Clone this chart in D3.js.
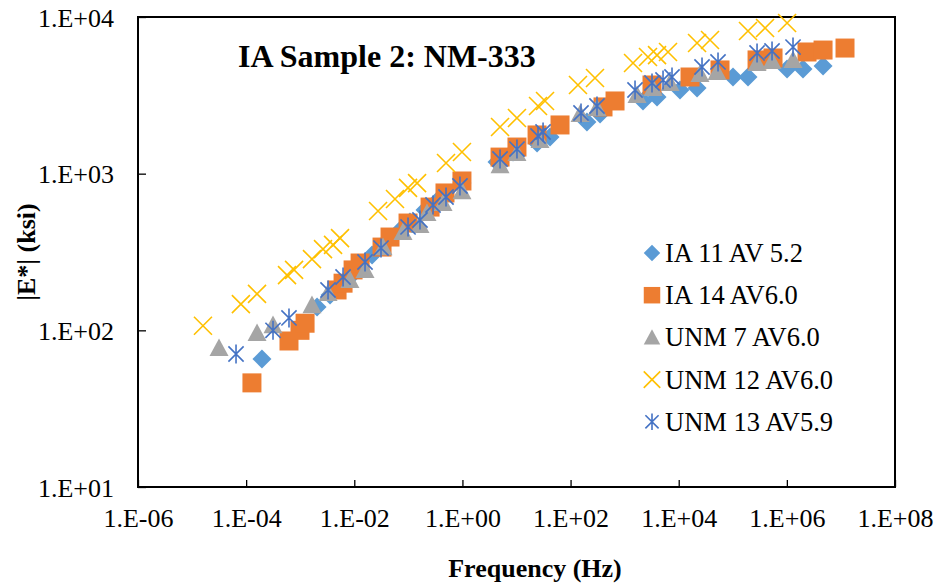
<!DOCTYPE html>
<html>
<head>
<meta charset="utf-8">
<script src="https://cdn.jsdelivr.net/npm/d3@7"></script>
<style>
  html, body { margin: 0; padding: 0; background: #fff; }
  svg { display: block; font-family: "Liberation Serif", "Times New Roman", serif; }
</style>
</head>
<body>
<svg width="935" height="587"></svg>
<script>
// reduced frequency (Hz) and |E*| (ksi) for each specimen
var ia11Freq = [1.96e-4, 2.05e-3, 3.56e-3, 6.7e-3, 0.0103, 0.0213, 0.037, 0.0702, 0.107, 0.203, 0.385, 0.98,
  4.36, 8.63, 24.0, 41.7, 201, 351, 2188, 3972, 10570, 21830, 1.01e5, 1.91e5, 1.01e6, 1.99e6, 4.67e6]
var ia11Mod = [65.6, 141, 168, 204, 236, 303, 361, 436, 491, 586, 700, 871,
  1186, 1374, 1570, 1714, 2138, 2404, 2911, 3085, 3420, 3524, 4140, 4140, 4660, 4660, 4870]

var ia14Freq = [1.28e-4, 6.2e-4, 9.9e-4, 1.23e-3, 4.8e-3, 6.2e-3, 9.5e-3, 0.0128, 0.0326, 0.0458, 0.0986, 0.252,
  0.476, 0.98, 4.96, 10.2, 24.0, 63.8, 398, 664, 3206, 16180, 58070, 2.81e5, 5.55e5, 2.36e6, 4.67e6, 1.19e7]
var ia14Mod = [46.2, 85.5, 100, 111, 181, 200, 243, 269, 340, 394, 484, 612,
  753, 898, 1276, 1479, 1766, 2046, 2667, 2911, 3681, 4140, 4592, 5320, 5475, 5980, 6153, 6336]

var unm7Freq = [3.15e-5, 1.59e-4, 3.14e-4, 1.65e-3, 3.27e-3, 8.3e-3, 0.0158, 0.034, 0.0796, 0.164, 0.221, 0.438,
  0.98, 4.96, 10.2, 27.2, 150, 308, 1694, 3350, 6902, 24770, 51170, 2.81e5, 5.32e5, 1.30e6]
var unm7Mod = [77.1, 96.1, 108, 145, 173, 210, 243, 340, 424, 470, 561, 650,
  774, 1135, 1355, 1641, 2404, 2624, 3177, 3524, 3793, 4325, 4456, 5083, 5236, 5320]

var unm12Freq = [1.59e-5, 8.0e-5, 1.59e-4, 5.7e-4, 7.7e-4, 1.65e-3, 2.64e-3, 4.05e-3, 5.45e-3, 0.0275, 0.0566, 0.0986,
  0.145, 0.497, 0.98, 4.96, 10.2, 25.0, 33.7, 137, 283, 1429, 2704, 3972, 6339, 21830, 37930, 1.91e5, 3.95e5, 1.01e6]
var unm12Mod = [107, 147, 171, 225, 243, 285, 330, 351, 388, 578, 689, 811,
  871, 1169, 1374, 1986, 2265, 2704, 2911, 3681, 4083, 5083, 5559, 5715, 5980, 6823, 7129, 8147, 8511, 9162]

var unm13Freq = [6.5e-5, 3.14e-4, 6.2e-4, 3.27e-3, 6.2e-3, 0.0158, 0.0312, 0.0986, 0.164, 0.286, 0.497, 0.90,
  4.96, 10.2, 25.0, 31.0, 156, 308, 1556, 3206, 5129, 7516, 26980, 53330, 2.81e5, 5.32e5, 1.30e6]
var unm13Mod = [70.6, 100, 120, 181, 219, 273, 335, 457, 506, 631, 710, 834,
  1241, 1436, 1739, 1845, 2438, 2704, 3420, 3793, 3963, 4140, 4797, 5165, 5890, 6067, 6427]

var seriesNames = ['IA 11 AV 5.2', 'IA 14 AV6.0', 'UNM 7 AV6.0', 'UNM 12 AV6.0', 'UNM 13 AV5.9']
var xTicks = [1e-6, 1e-4, 1e-2, 1e0, 1e2, 1e4, 1e6, 1e8]
var yTicks = [1e1, 1e2, 1e3, 1e4]

;(function (d3) {
  var series = [
    {name: seriesNames[0], f: ia11Freq, e: ia11Mod, shape: 'diamond', color: '#5B9BD5'},
    {name: seriesNames[1], f: ia14Freq, e: ia14Mod, shape: 'square', color: '#ED7D31'},
    {name: seriesNames[2], f: unm7Freq, e: unm7Mod, shape: 'triangle', color: '#A5A5A5'},
    {name: seriesNames[3], f: unm12Freq, e: unm12Mod, shape: 'cross', color: '#FFC000'},
    {name: seriesNames[4], f: unm13Freq, e: unm13Mod, shape: 'star', color: '#4472C4'}
  ]

  var svg = d3.select('svg')
  var plotL = 138, plotR = 895, plotT = 17, plotB = 487
  var serif = '"Liberation Serif", "Times New Roman", serif'

  var x = d3.scaleLog().domain([1e-6, 1e8]).range([plotL, plotR])
  var y = d3.scaleLog().domain([10, 1e4]).range([plotB, plotT])

  function sciLabel (v) {
    var p = Math.round(Math.log10(v))
    var s = String(Math.abs(p)).padStart(2, '0')
    return '1.E' + (p < 0 ? '-' : '+') + s
  }

  // marker path centred on 0,0, s = overall size
  function markerPath (shape, s) {
    var h = s / 2
    if (shape === 'square') return `M${-h},${-h}H${h}V${h}H${-h}Z`
    if (shape === 'diamond') return `M0,${-h}L${h},0L0,${h}L${-h},0Z`
    if (shape === 'triangle') return `M0,${-h}L${h},${h * 0.85}L${-h},${h * 0.85}Z`
    if (shape === 'cross') return `M${-h},${-h}L${h},${h}M${h},${-h}L${-h},${h}`
    // star: X plus vertical stroke
    var d = h * 0.8
    return `M${-d},${-d}L${d},${d}M${d},${-d}L${-d},${d}M0,${-h}V${h}`
  }
  function isLine (shape) { return shape === 'cross' || shape === 'star' }

  function drawMarker (sel, shape, color, s) {
    sel.attr('d', markerPath(shape, s))
      .attr('fill', isLine(shape) ? 'none' : color)
      .attr('stroke', isLine(shape) ? color : 'none')
      .attr('stroke-width', isLine(shape) ? 1.6 : 0)
  }

  // title
  svg.append('text')
    .attr('x', 238).attr('y', 67)
    .style('font-size', '32px').style('font-weight', 'bold')
    .text('IA Sample 2: NM-333')

  // axes
  var xAxis = d3.axisBottom(x).tickValues(xTicks).tickSize(-7).tickFormat(sciLabel)
  var gx = svg.append('g').attr('transform', `translate(0,${plotB})`).call(xAxis)
  gx.selectAll('text').attr('y', 40).attr('dy', null)
    .style('font-size', '26px').style('font-family', serif).attr('fill', '#000')

  var yAxis = d3.axisLeft(y).tickValues(yTicks).tickSize(-8).tickFormat(sciLabel)
  var gy = svg.append('g').attr('transform', `translate(${plotL},0)`).call(yAxis)
  gy.selectAll('text').attr('x', -24).attr('dy', 9)
    .style('font-size', '26px').style('font-family', serif).attr('fill', '#000')

  svg.selectAll('.domain').remove()
  svg.selectAll('.tick line').attr('stroke', '#000').attr('stroke-width', 1.3)

  svg.append('rect')
    .attr('x', plotL).attr('y', plotT)
    .attr('width', plotR - plotL).attr('height', plotB - plotT)
    .attr('fill', 'none').attr('stroke', '#000').attr('stroke-width', 2)

  // axis titles
  svg.append('text')
    .attr('x', 535).attr('y', 577)
    .style('text-anchor', 'middle').style('font-size', '26px').style('font-weight', 'bold')
    .text('Frequency (Hz)')

  svg.append('text')
    .attr('transform', 'translate(35,252) rotate(-90)')
    .style('text-anchor', 'middle').style('font-size', '26px').style('font-weight', 'bold')
    .text('|E*| (ksi)')

  // points
  series.forEach(function (s) {
    var pts = s.f.map(function (f, i) { return {f: f, e: s.e[i]} })
    svg.append('g').selectAll('path')
      .data(pts)
      .enter()
      .append('path')
      .attr('transform', d => `translate(${x(d.f)},${y(d.e)})`)
      .call(drawMarker, s.shape, s.color, s.shape === 'cross' ? 18 : 19)
  })

  // legend
  var lg = svg.append('g').attr('transform', 'translate(652,253)')
  series.forEach(function (s, i) {
    var row = lg.append('g').attr('transform', `translate(0,${i * 42.2})`)
    row.append('path').call(drawMarker, s.shape, s.color, 16.5)
    row.append('text')
      .attr('x', 13).attr('y', 9)
      .style('font-size', '26.5px')
      .text(s.name)
  })
})(window.d3)
</script>
</body>
</html>
